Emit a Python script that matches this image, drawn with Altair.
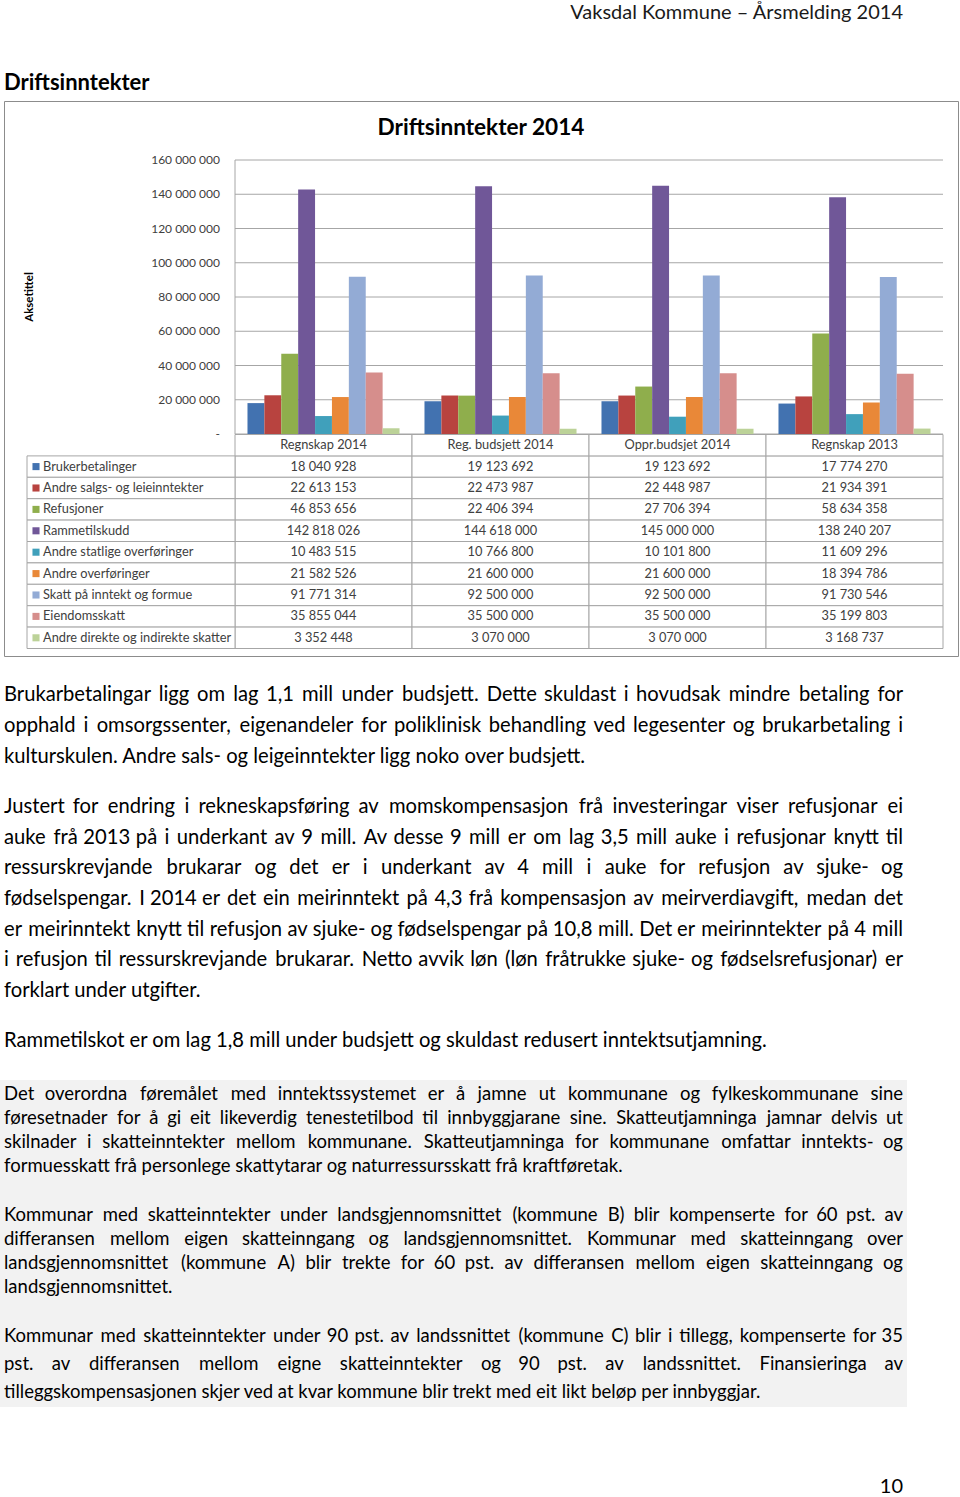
import altair as alt
import pandas as pd

FONT = "Lato"

categories = ["Regnskap 2014", "Reg. budsjett 2014", "Oppr.budsjet 2014", "Regnskap 2013"]
series = ["Brukerbetalinger", "Andre salgs- og leieinntekter", "Refusjoner", "Rammetilskudd",
          "Andre statlige overføringer", "Andre overføringer", "Skatt på inntekt og formue",
          "Eiendomsskatt", "Andre direkte og indirekte skatter"]
regnskap_2014 = [18040928, 22613153, 46853656, 142818026, 10483515, 21582526, 91771314, 35855044, 3352448]
reg_budsjett_2014 = [19123692, 22473987, 22406394, 144618000, 10766800, 21600000, 92500000, 35500000, 3070000]
oppr_budsjett_2014 = [19123692, 22448987, 27706394, 145000000, 10101800, 21600000, 92500000, 35500000, 3070000]
regnskap_2013 = [17774270, 21934391, 58634358, 138240207, 11609296, 18394786, 91730546, 35199803, 3168737]
colors = ["#4272B0", "#B8433F", "#8FAE4C", "#705798", "#40A0BB", "#E98838", "#93ABD5", "#D68E8C", "#BCD298"]

y_ticks = [0, 20000000, 40000000, 60000000, 80000000, 100000000, 120000000, 140000000, 160000000]
y_tick_labels = ["-", "20 000 000", "40 000 000", "60 000 000", "80 000 000",
                 "100 000 000", "120 000 000", "140 000 000", "160 000 000"]

header_text = "Vaksdal Kommune – Årsmelding 2014"
section_title = "Driftsinntekter"
chart_title = "Driftsinntekter 2014"
axis_title = "Aksetittel"
page_number = "10"

para1 = [
    "Brukarbetalingar ligg om lag 1,1 mill under budsjett. Dette skuldast i hovudsak mindre betaling for",
    "opphald i omsorgssenter, eigenandeler for poliklinisk behandling ved legesenter og brukarbetaling i",
    "kulturskulen. Andre sals- og leigeinntekter ligg noko over budsjett.",
]
para2 = [
    "Justert for endring i rekneskapsføring av momskompensasjon frå investeringar viser refusjonar ei",
    "auke frå 2013 på i underkant av 9 mill.  Av desse 9 mill er om lag 3,5 mill auke i refusjonar knytt til",
    "ressurskrevjande brukarar og det er i underkant av 4 mill i auke for refusjon av sjuke- og",
    "fødselspengar. I 2014 er det ein meirinntekt på 4,3 frå kompensasjon av meirverdiavgift, medan det",
    "er meirinntekt knytt til refusjon av sjuke- og fødselspengar på 10,8 mill. Det er meirinntekter på 4 mill",
    "i refusjon til ressurskrevjande brukarar. Netto avvik løn (løn fråtrukke sjuke- og fødselsrefusjonar) er",
    "forklart under utgifter.",
]
para3 = ["Rammetilskot er om lag 1,8 mill under budsjett og skuldast redusert inntektsutjamning."]
block_a = [
    "Det overordna føremålet med inntektssystemet er å jamne ut kommunane og fylkeskommunane sine",
    "føresetnader for å gi eit likeverdig tenestetilbod til innbyggjarane sine. Skatteutjamninga jamnar delvis ut",
    "skilnader i skatteinntekter mellom kommunane. Skatteutjamninga for kommunane omfattar inntekts- og",
    "formuesskatt frå personlege skattytarar og naturressursskatt frå kraftføretak.",
]
block_b = [
    "Kommunar med skatteinntekter under landsgjennomsnittet (kommune B) blir kompenserte for 60 pst. av",
    "differansen mellom eigen skatteinngang og landsgjennomsnittet. Kommunar med skatteinngang over",
    "landsgjennomsnittet (kommune A) blir trekte for 60 pst. av differansen mellom eigen skatteinngang og",
    "landsgjennomsnittet.",
]
block_c = [
    "Kommunar med skatteinntekter under 90 pst. av landssnittet (kommune C) blir i tillegg, kompenserte for 35",
    "pst. av differansen mellom eigne skatteinntekter og 90 pst. av landssnittet. Finansieringa av",
    "tilleggskompensasjonen skjer ved at kvar kommune blir trekt med eit likt beløp per innbyggjar.",
]

# ---------- data tables ----------
all_values = [regnskap_2014, reg_budsjett_2014, oppr_budsjett_2014, regnskap_2013]
rows = []
for cat, vals in zip(categories, all_values):
    for s, v in zip(series, vals):
        rows.append({"cat": cat, "series": s, "value": v, "label": f"{v:,}".replace(",", " ")})
df = pd.DataFrame(rows)

HDR = "_hdr"
row_domain = [HDR] + series
hdr_df = pd.DataFrame({"cat": categories, "series": [HDR] * len(categories), "label": categories})
cells_df = pd.concat([df[["cat", "series", "label"]], hdr_df], ignore_index=True)
legend_df = pd.DataFrame({"series": series})
ticks_df = pd.DataFrame({"v": y_ticks, "lab": y_tick_labels})

# ---------- scales ----------
PX0, PX1 = 235, 943
PY0, PY1 = 434, 160
y_scale = alt.Scale(domain=[0, 160000000], range=[PY0, PY1])
x_bar_scale = alt.Scale(domain=categories, range=[PX0, PX1], paddingInner=0.141, paddingOuter=0.0705)
x_tab_scale = alt.Scale(domain=categories, range=[PX0, PX1], paddingInner=0, paddingOuter=0)
y_tab_scale = alt.Scale(domain=row_domain, range=[434.5, 648.5], paddingInner=0, paddingOuter=0)
color_scale = alt.Scale(domain=series, range=colors)

one = pd.DataFrame({"a": [0]})

# approximate advance widths (em) of a humanist sans, used only to spread words for justified lines
_CW = {" ": 0.226, "a": 0.479, "b": 0.525, "c": 0.423, "d": 0.525, "e": 0.498, "f": 0.305, "g": 0.471,
       "h": 0.525, "i": 0.229, "j": 0.239, "k": 0.455, "l": 0.229, "m": 0.799, "n": 0.525, "o": 0.527,
       "p": 0.525, "q": 0.525, "r": 0.349, "s": 0.391, "t": 0.335, "u": 0.525, "v": 0.452, "w": 0.715,
       "x": 0.433, "y": 0.453, "z": 0.395, "å": 0.479, "ø": 0.527, "æ": 0.773,
       "A": 0.579, "B": 0.544, "C": 0.533, "D": 0.615, "E": 0.488, "F": 0.459, "G": 0.631, "H": 0.623,
       "I": 0.252, "J": 0.319, "K": 0.520, "L": 0.420, "M": 0.855, "N": 0.646, "O": 0.662, "P": 0.517,
       "R": 0.543, "S": 0.459, "T": 0.487, "U": 0.642, "V": 0.567, "W": 0.890, "Å": 0.579,
       ".": 0.252, ",": 0.250, "-": 0.306, "(": 0.303, ")": 0.303}
_K = 1.068  # calibration of the table to the rendered font


def _w(word, size):
    return _K * size * sum(_CW.get(c, 0.507) for c in word)


def box(x, x2, y, y2, **kw):
    return alt.Chart(one).mark_rect(**kw).encode(
        x=alt.value(x), x2=alt.value(x2), y=alt.value(y), y2=alt.value(y2))


def line_block(lines, x, y0, pitch, size, weight="normal", align="left", color="#000000", angle=0):
    d = pd.DataFrame({"line": lines, "i": list(range(len(lines)))})
    kw = dict(align=align, baseline="middle", fontSize=size, font=FONT, fontWeight=weight, color=color)
    if angle:
        kw["angle"] = angle
    return alt.Chart(d).mark_text(**kw).transform_calculate(
        py=f"{y0} + datum.i * {pitch}"
    ).encode(x=alt.value(x), y=alt.Y("py:Q", scale=None, axis=None), text="line:N")


def justified_block(lines, y0, pitch, size, left=4, right=903):
    """Lay out a paragraph: all lines but the last are justified word by word."""
    recs = []
    for li, line in enumerate(lines):
        y = y0 + li * pitch
        if li == len(lines) - 1:
            recs.append({"t": line, "px": left, "py": y, "al": "left"})
            continue
        words = line.split()
        ws = [_w(w, size) for w in words]
        gap = (right - left - sum(ws)) / (len(words) - 1)
        xpos = left
        for k, (w, ww) in enumerate(zip(words, ws)):
            if k == 0:
                recs.append({"t": w, "px": left, "py": y, "al": "left"})
            elif k == len(words) - 1:
                recs.append({"t": w, "px": right, "py": y, "al": "right"})
            else:
                recs.append({"t": w, "px": xpos + ww / 2, "py": y, "al": "center"})
            xpos += ww + gap
    d = pd.DataFrame(recs)
    layers = []
    for al in ["left", "center", "right"]:
        sub = d[d["al"] == al]
        if len(sub):
            layers.append(alt.Chart(sub).mark_text(
                align=al, baseline="middle", fontSize=size, font=FONT, color="#000000"
            ).encode(x=alt.X("px:Q", scale=None, axis=None), y=alt.Y("py:Q", scale=None, axis=None),
                     text="t:N"))
    return layers


gray_bg = box(0, 907, 1080, 1407, fill="#f2f2f2", stroke=None)
chart_border = box(4.5, 958.5, 101.5, 656.5, filled=False, stroke="#8c8c8c", strokeWidth=1)

grid = alt.Chart(ticks_df).mark_rule(color="#a6a6a6", strokeWidth=1).encode(
    x=alt.value(PX0), x2=alt.value(PX1), y=alt.Y("v:Q", scale=y_scale, axis=None))
left_axis = alt.Chart(one).mark_rule(color="#a6a6a6", strokeWidth=1).encode(
    x=alt.value(PX0), y=alt.value(PY1), y2=alt.value(PY0))
tick_labels = alt.Chart(ticks_df).mark_text(
    align="right", baseline="middle", fontSize=12, font=FONT, color="#404040"
).encode(x=alt.value(220), y=alt.Y("v:Q", scale=y_scale, axis=None), text="lab:N")

bars = alt.Chart(df).mark_bar().encode(
    x=alt.X("cat:N", sort=categories, scale=x_bar_scale, axis=None),
    xOffset=alt.XOffset("series:N", sort=series, scale=alt.Scale(domain=series, paddingInner=0, paddingOuter=0)),
    y=alt.Y("value:Q", scale=y_scale, axis=None),
    color=alt.Color("series:N", scale=color_scale, legend=None),
)

cells = alt.Chart(cells_df).mark_rect(fill="white", stroke="#a6a6a6", strokeWidth=1).encode(
    x=alt.X("cat:N", scale=x_tab_scale, axis=None),
    y=alt.Y("series:N", scale=y_tab_scale, axis=None),
)
cell_text = alt.Chart(cells_df).mark_text(
    baseline="middle", align="center", fontSize=12.8, font=FONT, color="#404040"
).encode(
    x=alt.X("cat:N", scale=x_tab_scale, axis=None),
    y=alt.Y("series:N", scale=y_tab_scale, axis=None),
    text="label:N",
)
legend_cells = alt.Chart(legend_df).mark_rect(fill="white", stroke="#a6a6a6", strokeWidth=1).encode(
    x=alt.value(27), x2=alt.value(PX0),
    y=alt.Y("series:N", scale=y_tab_scale, axis=None),
)
legend_sw = alt.Chart(legend_df).mark_square(size=50, opacity=1).encode(
    x=alt.value(36),
    y=alt.Y("series:N", scale=y_tab_scale, axis=None),
    color=alt.Color("series:N", scale=color_scale, legend=None),
)
legend_txt = alt.Chart(legend_df).mark_text(
    align="left", baseline="middle", fontSize=12.8, font=FONT, color="#404040"
).encode(
    x=alt.value(43),
    y=alt.Y("series:N", scale=y_tab_scale, axis=None),
    text="series:N",
)

texts = [
    line_block([header_text], 903, 13, 0, 20, align="right", color="#1a1a1a"),
    line_block([section_title], 4, 83, 0, 22, weight="bold"),
    line_block([chart_title], 481, 128, 0, 22.6, weight="bold", align="center"),
    line_block([axis_title], 30, 297, 0, 11.5, weight="bold", align="center", angle=270),
    line_block(para3, 4, 1041, 0, 20.2),
    line_block([page_number], 903, 1487, 0, 20, align="right"),
]
texts += justified_block(para1, 695, 31, 20.2)
texts += justified_block(para2, 807, 30.67, 20.2)
texts += justified_block(block_a, 1094, 24, 18.5)
texts += justified_block(block_b, 1215, 24, 18.5)
texts += justified_block(block_c, 1336, 28, 18.5)

chart = alt.layer(
    gray_bg, chart_border, grid, left_axis, tick_labels, bars,
    cells, cell_text, legend_cells, legend_sw, legend_txt, *texts
).resolve_scale(
    x="independent", y="independent", color="independent", xOffset="independent"
).properties(
    width=960, height=1497, padding=0, autosize=alt.AutoSizeParams(type="none"),
    background="white",
).configure_view(stroke=None)

chart.save("out.html", embed_options={"renderer": "svg", "actions": False})
